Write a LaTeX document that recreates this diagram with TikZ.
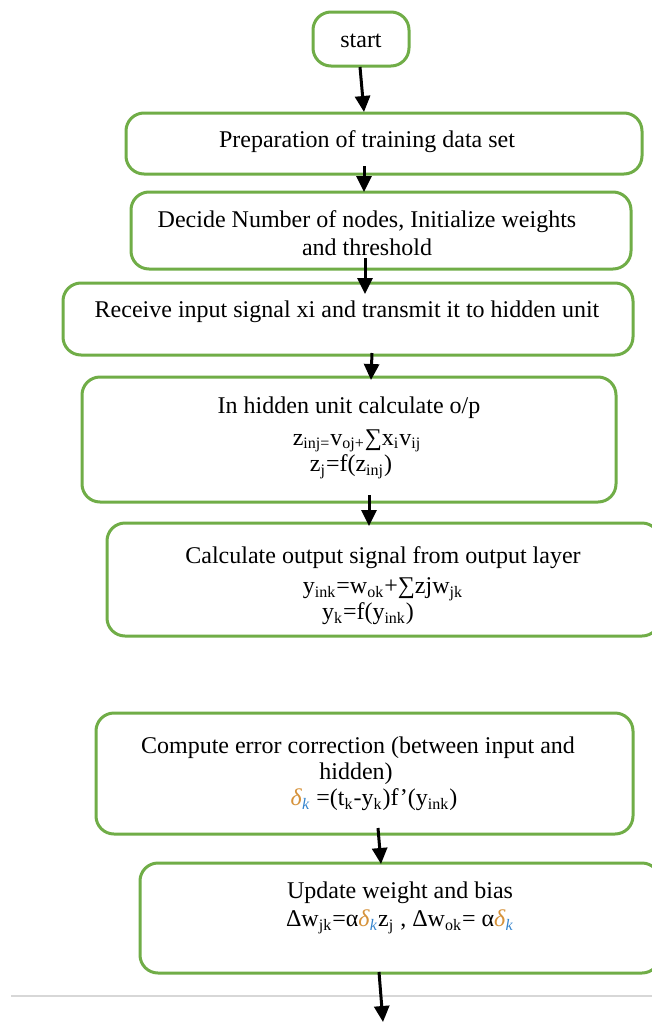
\documentclass[tikz,border=0pt]{standalone}
\usepackage{fontspec}
\setmainfont{Liberation Serif}
\usetikzlibrary{arrows.meta}
\definecolor{boxgreen}{RGB}{112,173,71}
\definecolor{deltaor}{RGB}{214,146,58}
\definecolor{deltabl}{RGB}{52,132,205}
\definecolor{rulegray}{RGB}{215,215,215}
\newcommand{\deltak}{{\color{deltaor}\textit{δ}}\textsubscript{\color{deltabl}\textit{k}}}
\newcommand{\flowbox}[5]{\node[fbox, minimum width=#4*0.5pt, minimum height=#5*0.5pt] (#1) at (#2,#3) {};}
\tikzset{
  fbox/.style={draw=boxgreen, line width=1.5pt, rounded corners=9pt, fill=none, inner sep=0pt},
  txt/.style={font=\fontsize{12pt}{14pt}\selectfont, inner sep=0pt, text=black},
  conn/.style={line width=1.5pt, -{Triangle[width=7.5pt,length=8pt]}}
}
\begin{document}
\begin{tikzpicture}[x=0.5pt,y=-0.5pt]
\useasboundingbox (0,0) rectangle (652,1023);
\clip (0,0) rectangle (652,1023);
\fill[white] (0,0) rectangle (652,1023);

% boxes
\flowbox{start}{361}{39}{96}{54}
\flowbox{prep}{384}{143.5}{516}{61}
\flowbox{decide}{381}{230.5}{500}{77}
\flowbox{receive}{348}{319}{570}{72}
\flowbox{hidden}{349}{439.5}{534}{125}
\flowbox{output}{383.5}{579.5}{553}{113}
\flowbox{compute}{364.5}{773.5}{537}{121}
\flowbox{update}{400}{918}{520}{110}

% texts
\node[txt] (tstart) at (361,41) {start};
\node[txt] (tprep) at (367,142) {Preparation of training data set};
\node[txt] (tdec1) at (367,222) {Decide Number of nodes, Initialize weights};
\node[txt] (tdec2) at (367,247) {and threshold};
\node[txt] (trec) at (347,312) {Receive input signal xi and transmit it to hidden unit};
\node[txt] (thid1) at (349,408) {In hidden unit calculate o/p};
\node[txt] (thid2) at (357,441) {z\textsubscript{inj=}v\textsubscript{oj+}∑x\textsubscript{i}v\textsubscript{ij}};
\node[txt] (thid3) at (351,467) {z\textsubscript{j}=f(z\textsubscript{inj})};
\node[txt] (tout1) at (383,558) {Calculate output signal from output layer};
\node[txt] (tout2) at (383,589) {y\textsubscript{ink}=w\textsubscript{ok}+∑zjw\textsubscript{jk}};
\node[txt] (tout3) at (368,614) {y\textsubscript{k}=f(y\textsubscript{ink})};
\node[txt] (tcom1) at (358,748) {Compute error correction (between input and};
\node[txt] (tcom2) at (356,774) {hidden)};
\node[txt] (tcom3) at (374,800) {\deltak{} =(t\textsubscript{k}-y\textsubscript{k})f’(y\textsubscript{ink})};
\node[txt] (tupd1) at (400,893) {Update weight and bias};
\node[txt] (tupd2) at (400,922) {Δw\textsubscript{jk}=α\deltak z\textsubscript{j}\ , Δw\textsubscript{ok}= α\deltak};

% gray rule
\coordinate (ruleL) at (11,996);
\coordinate (ruleR) at (652,996);
\draw[rulegray, line width=1.1pt] (ruleL) -- (ruleR);

% connector end points
\coordinate (a1s) at (360,67);
\coordinate (a1e) at (364,112);
\coordinate (a2s) at (364,166);
\coordinate (a2e) at (364,192);
\coordinate (a3s) at (365,258);
\coordinate (a3e) at (365,294);
\coordinate (a4s) at (372,353);
\coordinate (a4e) at (371,380);
\coordinate (a5s) at (369,495);
\coordinate (a5e) at (369,526);
\coordinate (a6s) at (378,828);
\coordinate (a6e) at (381,864);
\coordinate (a7s) at (379,972);
\coordinate (a7e) at (383,1022);

\draw[conn] (a1s) -- (a1e);
\draw[conn] (a2s) -- (a2e);
\draw[conn] (a3s) -- (a3e);
\draw[conn] (a4s) -- (a4e);
\draw[conn] (a5s) -- (a5e);
\draw[conn] (a6s) -- (a6e);
\draw[conn] (a7s) -- (a7e);
\end{tikzpicture}
\end{document}
